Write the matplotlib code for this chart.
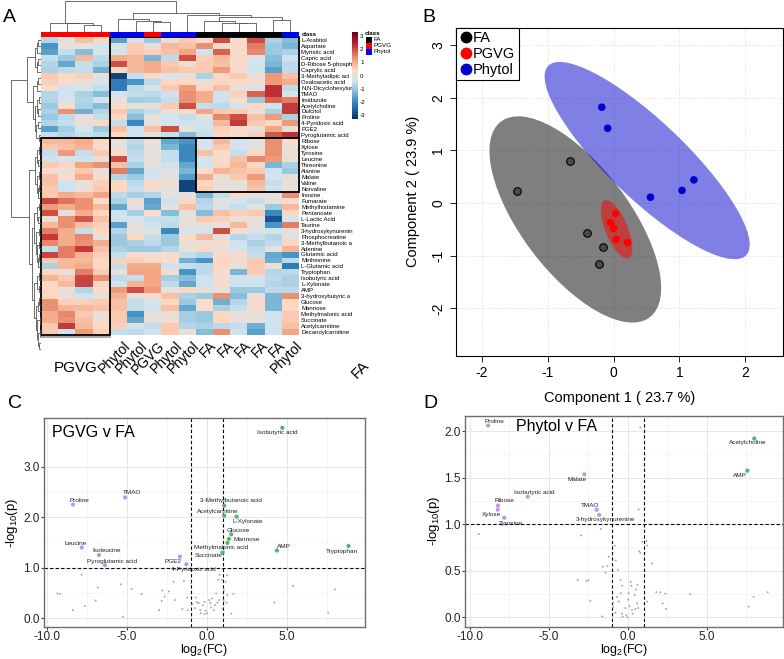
"""
Figura compuesta: (A) heatmap con dendrogramas, (B) PLS-DA con elipses 95 %,
(C, D) volcano plots. Valores leidos a ojo de la figura original.
"""
import numpy as np
import matplotlib
matplotlib.use("Agg")
import matplotlib.pyplot as plt
from matplotlib.colors import LinearSegmentedColormap, to_rgb
from matplotlib.patches import Ellipse, Rectangle
from matplotlib.lines import Line2D

plt.rcParams["font.family"] = ["Liberation Sans", "DejaVu Sans"]
plt.rcParams["axes.unicode_minus"] = False
plt.rcParams["mathtext.default"] = "regular"

W, H = 784, 659

# ---------------- datos: heatmap ----------------
ROW_LABELS = ["L-Arabitol", "Aspartate", "Myristic acid", "Capric acid", "D-Ribose 5-phospha",
              "Caprylic acid", "3-Methyladipic aci", "Oxaloacetic acid", "N,N-Dicyclohexylur",
              "TMAO", "Imidazole", "Acetylcholine", "Dulcitol", "Proline", "4-Pyridoxic acid",
              "PGE2", "Pyroglutamic acid", "Ribose", "Xylose", "Tyrosine", "Leucine", "Threonine",
              "Alanine", "Malate", "Valine", "Norvaline", "Inosine", "Fumarate", "Methylhistamine",
              "Pentanoate", "L-Lactic Acid", "Taurine", "3-hydroxykynurenin", "Phosphocreatine",
              "3-Methylbutanoic a", "Adenine", "Glutamic acid", "Methionine", "L-Glutamic acid",
              "Tryptophan", "Isobutyric acid", "L-Xylonate", "AMP", "3-hydroxybutyric a",
              "Glucose", "Mannose", "Methylmalonic acid", "Succinate", "Acetylcarnitine",
              "Decanoylcarnitine"]
HEAT = [
    [-0.7, 0.0, 0.7, 0.4, -1.6, -0.3, -1.0, 0.0, 0.6, 0.3, 2.0, 0.3, 2.0, -0.8, -1.2],
    [-1.8, 0.0, 0.0, -0.4, -0.3, 0.6, 0.1, 0.8, 0.7, 1.3, 0.3, 0.3, 1.5, -1.0, -1.3],
    [-1.6, -0.5, -1.2, -0.3, -0.3, 0.6, 0.5, 0.7, 1.1, -0.4, 1.8, 0.3, 1.4, -1.0, -0.8],
    [-0.5, -1.0, 0.8, -0.6, 1.0, 0.8, -1.3, -0.6, 2.0, 0.5, 0.8, 0.4, -0.2, -1.2, -0.4],
    [-0.7, -1.5, -0.5, -0.8, 2.0, 0.8, 1.0, 0.6, 0.1, 0.6, 0.7, 0.3, -0.3, -1.3, -0.6],
    [-0.8, -0.6, -0.5, -1.4, 0.4, 0.8, 1.0, 0.7, 0.6, 0.6, 1.2, 0.3, -0.4, -1.6, -0.6],
    [0.6, 0.4, 0.5, 0.0, -3.0, -0.5, 0.3, -0.3, 0.0, -0.8, 0.4, 0.6, 0.1, 1.2, 0.7],
    [0.5, 0.3, 0.1, -0.3, -2.2, -1.8, -0.6, 0.4, 0.4, 0.0, 0.4, 0.3, 0.2, 1.2, 1.0],
    [0.3, -0.4, -0.3, -0.5, -2.2, -0.6, -0.3, 0.6, 1.2, 0.4, 0.7, 0.0, -0.2, 2.3, -0.6],
    [-0.7, -0.4, -0.8, -1.2, -0.3, -0.5, -0.6, -0.4, 1.3, 1.0, -0.4, 0.5, 1.8, 2.3, -0.3],
    [-0.7, -0.2, -0.7, -0.3, 0.0, -0.9, -0.8, -0.5, 1.3, 1.0, -0.4, 0.3, -1.0, 1.8, 1.5],
    [-1.0, 0.2, -0.8, -1.2, 0.3, 0.0, 0.0, 0.6, 2.0, -0.5, -0.6, -0.3, 0.4, -0.4, 2.2],
    [-0.8, 1.3, -1.4, -0.7, 0.6, -0.8, -0.5, 0.0, 0.3, 1.1, 0.6, 0.6, 0.1, -0.8, 2.2],
    [-1.0, -0.6, 0.1, -0.5, 0.4, -1.2, 0.0, -0.3, -0.5, -0.1, 1.4, 2.0, 0.7, 1.2, -0.8],
    [-0.7, -0.5, 0.0, 0.4, -0.5, -2.0, 0.0, -0.3, -0.4, -0.4, 0.8, 2.2, 0.6, 0.4, 1.2],
    [-1.6, -0.9, -0.3, -1.0, 0.7, -0.4, 0.7, 2.0, 0.0, -0.4, 0.5, 0.3, 0.1, 1.1, 0.1],
    [-0.5, -0.7, -0.5, -0.6, 0.4, -0.4, 0.0, -0.5, -1.2, -0.5, 0.4, 0.3, 0.5, 1.9, 2.3],
    [0.8, 0.8, 1.0, 0.4, 0.0, -0.6, 0.0, -1.5, -1.8, -0.3, 0.8, -0.3, -0.1, 1.3, 0.3],
    [0.6, 0.7, 0.9, 0.3, 0.0, -0.7, 0.0, -1.3, -2.0, -0.3, 0.6, -0.3, -0.1, 1.3, 0.1],
    [-0.5, 1.2, -0.5, 0.6, 0.3, -0.6, 0.0, -0.5, -2.0, 0.7, 0.3, -0.5, 0.4, 1.3, 0.1],
    [-0.4, -0.3, -0.4, 0.0, 2.0, -0.5, 0.0, -0.5, -2.0, -0.3, 0.3, 0.7, 1.4, 1.2, 0.0],
    [0.6, 0.4, 1.1, 1.3, 0.7, -0.8, 0.0, -0.4, -1.5, -0.3, 0.4, 0.8, 0.4, -1.3, -0.8],
    [0.3, 0.0, 0.6, 0.0, 1.5, -1.5, -0.4, -0.1, -1.3, 0.3, 0.9, 0.7, 0.6, -0.4, -1.0],
    [0.7, 0.3, 1.0, 0.3, -0.7, -1.0, -0.3, -0.1, -1.7, 1.0, 0.0, 0.6, 1.2, -0.3, 0.0],
    [0.7, -0.4, 0.0, 0.5, 0.4, -0.6, 0.4, 0.1, -3.0, 0.4, 0.0, 0.0, 0.8, -0.5, 0.0],
    [0.6, -0.4, 0.1, 0.6, 0.4, -0.5, 0.1, 0.0, -3.0, 0.5, 0.0, 0.0, 0.7, -0.4, 0.0],
    [0.6, 1.0, 0.8, 1.1, -0.6, -0.9, -0.7, -0.1, 0.0, -1.3, -0.5, 0.3, 0.0, 0.0, 1.3],
    [2.1, 1.6, 1.3, 0.3, -0.8, 0.1, -1.6, -0.4, 0.4, -0.7, 0.0, -0.3, -0.5, 0.0, 0.3],
    [1.2, 1.0, 1.3, 0.8, -1.5, 0.0, -1.5, 0.0, 0.7, -0.6, -0.3, -0.5, -0.1, -1.0, 0.8],
    [2.0, 0.0, 1.0, 0.4, -0.4, -0.9, 0.3, -1.2, 0.0, -1.2, 0.7, 0.5, 0.6, -2.0, 0.4],
    [0.1, 1.3, 1.9, 0.7, -0.4, -0.3, -0.5, -0.5, 0.0, 0.6, 0.5, 0.0, 0.0, -2.8, -0.3],
    [0.8, 1.3, 0.7, 0.5, -1.6, 0.0, -0.4, -0.6, 0.0, 0.0, 0.0, 0.8, 0.0, -1.8, 1.5],
    [1.5, 1.0, -0.5, 0.4, -0.7, 0.0, -0.1, -2.0, -0.3, -0.3, 2.0, 0.3, -0.2, -0.3, -0.1],
    [2.2, 1.0, 1.4, 0.0, -1.0, 0.4, -0.5, -1.0, 0.3, 0.8, 0.0, -0.7, -0.5, -0.7, 0.0],
    [1.4, 1.0, 1.3, 1.0, -1.0, -0.8, -0.6, -1.0, 0.1, 0.1, 0.3, -0.4, -0.8, -0.6, 0.4],
    [-0.5, 1.5, 2.2, 0.7, -0.8, -1.0, -1.0, -0.7, 0.0, 0.4, 0.0, -0.3, -0.6, 0.0, 0.9],
    [2.1, 1.5, 0.9, 0.5, -0.5, 0.3, 0.1, 0.3, -0.5, -0.7, 0.3, 0.3, -0.5, -1.5, -1.8],
    [0.6, 0.8, 0.8, 0.4, 0.5, 0.5, 0.4, 0.3, -1.4, -1.8, 0.4, 0.1, 0.6, -1.4, -0.6],
    [-0.8, 0.8, 1.0, 0.4, -0.5, 1.0, 1.0, -0.4, -0.5, -0.6, 0.4, 0.0, 0.6, 0.0, -2.2],
    [0.4, 0.0, 1.5, 0.6, 0.0, 1.1, 1.1, 0.3, -1.8, -0.6, 0.3, -1.3, 0.6, -0.7, -0.6],
    [0.9, 0.6, 2.1, 1.3, -0.6, -0.5, 1.1, -0.9, -1.2, -0.4, 0.1, -0.4, -0.3, -0.6, -0.8],
    [0.4, 0.8, 2.1, 0.4, -0.4, 0.9, 1.1, -0.6, -1.5, -0.4, 0.3, -0.4, -0.4, -0.7, -0.8],
    [0.4, 0.0, -0.7, 0.3, 1.2, 2.0, 1.2, 0.0, 0.4, 0.0, 0.0, -1.0, -1.0, -0.6, -0.6],
    [0.4, 0.1, -0.4, 0.0, 0.9, 0.0, 0.3, 0.7, -0.8, -1.0, 1.3, -1.2, 0.1, -1.3, 1.3],
    [1.3, 0.5, 0.5, 0.6, 0.7, -0.5, -0.3, 0.4, -1.0, 0.3, -1.4, -0.7, 0.3, -1.3, 0.4],
    [1.3, 0.9, 0.8, 0.7, 0.7, -0.5, -0.4, 0.7, -1.5, 0.3, -0.8, -0.5, 0.3, -1.3, 0.4],
    [1.0, 1.4, 0.6, 0.1, 0.6, -1.8, 0.0, 0.1, -0.9, -1.0, 0.4, 0.0, 0.0, -0.4, 0.6],
    [1.0, 1.3, 0.7, 0.1, 0.6, -1.5, 0.0, 0.1, -0.9, -1.0, 0.4, 0.0, 0.0, -0.4, 0.6],
    [0.6, 2.2, 0.8, 0.4, 0.5, -0.3, -0.5, 0.6, -0.7, -0.8, -0.6, -0.5, -1.4, -0.4, 0.7],
    [0.6, -0.4, 1.2, 0.5, -0.5, -0.6, -0.4, 0.6, 0.0, -1.2, 1.3, -0.4, -1.6, -0.4, 1.1],
]
CLASS_ORDER = ["PGVG"] * 4 + ["Phytol", "Phytol", "PGVG", "Phytol", "Phytol"] + ["FA"] * 5 + ["Phytol"]
CLASS_COLORS = {"FA": "black", "PGVG": "#ff0000", "Phytol": "#0000ff"}
COL_LABELS = ["Phytol", "Phytol", "PGVG", "Phytol", "Phytol", "FA", "FA", "FA", "FA", "FA", "Phytol"]
BOXES = [(4, 14, 0, 16), (0, 3, 17, 49), (9, 14, 17, 25)]  # col0, col1, fila0, fila1

# dendrogramas: (izq, der, altura)
COL_TREE = ((0, (1, (2, 3, 7.0), 8.7), 9.3),
            ((4, (5, (6, 7, 10.3), 11.3), 12.7),
             (8, ((9, (10, (11, 12, 8.7), 9.3), 11.3), (13, 14, 12.0), 14.7), 17.0), 18.7),
            31.3)
T1 = (((0, 1, 3), 2, 4), ((3, 4, 3), 5, 4.5), 6)
T2 = ((6, 7, 3), 8, 4)
T3 = (((9, 10, 2.5), (11, 12, 3), 4.5), ((13, 14, 3), (15, 16, 2.5), 5), 6.5)
B1 = (((17, 18, 2), (19, 20, 3), 4), ((21, 22, 2.5), ((23, 24, 2), 25, 3), 4.5), 6)
B2 = (((26, 27, 2.5), (28, 29, 3), 4.5), ((30, 31, 2), ((32, 33, 2.5), ((34, 35, 2), 36, 3), 4), 5), 7)
B3 = (((37, 38, 2.5), (39, 40, 2), 4),
      (((41, 42, 2), 43, 3), ((44, 45, 1.5), ((46, 47, 1), (48, 49, 2.5), 3.5), 4.5), 5.5), 7.5)
ROW_TREE = ((T1, (T2, T3, 8), 14), (B1, (B2, B3, 9.5), 12), 30)

# ---------------- datos: PLS-DA ----------------
FA_X = [-0.66, -1.47, -0.40, -0.16, -0.22]
FA_Y = [0.79, 0.22, -0.57, -0.84, -1.16]
PGVG_X = [0.03, -0.05, 0.00, 0.04, 0.21]
PGVG_Y = [-0.20, -0.37, -0.48, -0.69, -0.75]
PHY_X = [-0.18, -0.09, 0.56, 1.04, 1.22]
PHY_Y = [1.82, 1.42, 0.11, 0.24, 0.44]

# ---------------- datos: volcano PGVG v FA ----------------
C_NAMES = ["Isobutyric acid", "TMAO", "Proline", "3-Methylbutanoic acid", "Acetylcarnitine",
           "L-Xylonate", "Glucose", "Mannose", "Methylmalonic acid", "Succinate", "AMP",
           "Tryptophan", "Leucine", "Isoleucine", "Pyroglutamic acid", "PGE2", "4-Pyridoxic acid"]
C_X = [4.73, -5.10, -8.36, 1.10, 1.10, 1.87, 1.54, 1.39, 1.30, 1.00, 4.39, 8.87, -7.81, -6.73, -6.36, -1.67, -1.27]
C_Y = [3.77, 2.39, 2.25, 2.23, 2.03, 2.01, 1.66, 1.57, 1.49, 1.30, 1.34, 1.43, 1.40, 1.25, 1.05, 1.22, 1.07]
C_NS_X = [-7.83, -9.33, -9.17, -8.36, -7.61, -6.81, -6.94, -5.36, -5.23, -4.08, -4.69, -2.77, -2.63,
          -2.81, -2.98, -2.36, -2.08, -1.98, -1.42, -1.52, -1.21, -0.98, -1.19, -0.90, -0.69, -0.61,
          -0.73, -0.50, -0.40, -0.36, -0.23, -0.13, -0.06, 0.02, -0.13, 0.15, 0.23, 0.27, 0.35, 0.46,
          0.52, 0.60, 0.67, 0.71, 0.77, 0.81, 0.94, 0.98, 1.06, 1.08, 1.19, 1.27, 1.29, 1.23, 1.67,
          1.54, 5.40, 4.23, 7.60, 8.02]
C_NS_Y = [0.86, 0.49, 0.48, 0.16, 0.24, 0.61, 0.35, 0.67, 0.03, 0.48, 0.58, 0.55, 0.43, 0.34, 0.16,
          0.53, 0.72, 0.36, 0.74, 0.18, 0.41, 0.69, 0.16, 0.28, 0.41, 0.32, 0.20, 0.30, 0.16, 0.10,
          0.26, 0.32, 0.15, 0.10, 0.08, 0.36, 0.30, 0.21, 0.39, 0.16, 0.26, 0.49, 0.31, 0.76, 0.36,
          0.86, 0.76, 0.19, 0.35, 0.55, 0.72, 0.85, 0.46, 0.31, 0.48, 0.09, 0.64, 0.31, 0.11, 0.57]

# ---------------- datos: volcano Phytol v FA ----------------
D_NAMES = ["Proline", "Acetylcholine", "AMP", "Malate", "Isobutyric acid", "Ribose", "Xylose",
           "Tyrosine", "TMAO", "3-hydroxykynurenine"]
D_X = [-8.84, 8.01, 7.57, -2.75, -6.33, -8.21, -8.23, -7.81, -1.97, -1.80]
D_Y = [2.06, 1.92, 1.575, 1.536, 1.296, 1.20, 1.156, 1.07, 1.156, 1.10]
D_NS_X = [-9.43, -2.96, -3.17, -2.49, -2.62, -2.37, -1.61, -1.71, -1.57, -1.40, -1.29, -1.21, -0.83,
          -0.76, -0.62, -0.45, -0.36, -0.43, -0.68, -0.57, -0.93, -0.93, -0.78, -0.36, -0.15, 0.02,
          0.19, 0.23, 0.06, 0.10, 0.27, -0.09, -0.32, -0.03, 0.31, 0.48, 0.65, 0.59, 0.44, 0.52,
          0.61, 0.73, 0.80, 0.92, 1.18, 1.22, 1.54, 1.22, 1.81, 2.06, 2.21, 2.42, 2.38, 3.96, 7.97,
          7.65, 8.86, 0.69, 0.80]
D_NS_Y = [0.895, 0.88, 0.40, 0.40, 0.39, 0.175, 0.01, 0.95, 0.544, 0.48, 0.55, 0.65, 0.77, 0.61,
          0.51, 0.40, 0.34, 0.26, 0.22, 0.17, 0.16, 0.11, 0.05, 0.04, 0.10, 0.19, 0.38, 0.34, 0.26,
          0.12, 0.08, 0.025, 0.007, 0.0, 0.04, 0.09, 0.10, 0.15, 0.24, 0.30, 0.35, 0.71, 0.69, 0.81,
          0.82, 0.77, 0.58, 0.17, 0.27, 0.27, 0.15, 0.09, 0.255, 0.25, 0.22, 0.115, 0.27, 1.16, 2.04]

# desplazamiento de las etiquetas (pt)
C_OFFS = {"Isobutyric acid": (-4, -3.4), "TMAO": (4.8, 3.4), "Proline": (4.3, 3.1),
          "3-Methylbutanoic acid": (5, 3.4), "Acetylcarnitine": (-5, 3.1), "L-Xylonate": (8.4, -3.6),
          "Glucose": (5, 2.6), "Mannose": (12.5, -0.5), "Methylmalonic acid": (-4.8, -3.4),
          "Succinate": (-10.3, -2.2), "AMP": (5, 3.1), "Tryptophan": (-4.6, -3.8),
          "Leucine": (-4.8, 3.1), "Isoleucine": (5.3, 3.1), "Pyroglutamic acid": (5.3, 2.9),
          "PGE2": (-5, -3.4), "4-Pyridoxic acid": (5, -3.6)}
D_OFFS = {"Proline": (4.8, 2.9), "Acetylcholine": (-5, -3.1), "AMP": (-5, -3.6), "Malate": (-5.3, -3.4),
          "Isobutyric acid": (5, 3.1), "Ribose": (4.8, 3.4), "Xylose": (-4.8, -3.4),
          "Tyrosine": (4.8, -4), "TMAO": (-5, 3.1), "3-hydroxykynurenine": (4.8, -3.6)}


def rect(x0, y0, x1, y1):
    return [x0 / W, 1 - y1 / H, (x1 - x0) / W, (y1 - y0) / H]


def draw_tree(ax, node, horizontal=False):
    """dibuja el dendrograma recursivamente, devuelve (posicion, altura)"""
    if not isinstance(node, tuple):
        return float(node), 0.0
    pl, hl = draw_tree(ax, node[0], horizontal)
    pr, hr = draw_tree(ax, node[1], horizontal)
    h = node[2]
    xs, ys = [pl, pl, pr, pr], [hl, h, h, hr]
    if horizontal:
        xs, ys = ys, xs
    ax.plot(xs, ys, color="#555555", lw=0.6, solid_capstyle="butt")
    return (pl + pr) / 2.0, h


fig = plt.figure(figsize=(W / 100, H / 100), dpi=100)

# ================= A: heatmap =================
cmap = LinearSegmentedColormap.from_list(
    "rdbu", ["#053061", "#2166AC", "#4393C3", "#92C5DE", "#D1E5F0",
             "#FDDBC7", "#F4A582", "#D6604D", "#B2182B", "#67001F"])
axh = fig.add_axes(rect(41, 37, 299, 352))
im = axh.imshow(np.array(HEAT), cmap=cmap, vmin=-3.3, vmax=3.3, aspect="auto", interpolation="nearest")
axh.set_xticks([])
axh.yaxis.tick_right()
axh.set_yticks(range(len(ROW_LABELS)), labels=ROW_LABELS)
axh.tick_params(axis="y", length=0, pad=1.5, labelsize=4.3)
for s in axh.spines.values():
    s.set_visible(False)
for c0, c1, r0, r1 in BOXES:
    axh.add_patch(Rectangle((c0 - 0.5, r0 - 0.5), c1 - c0 + 1, r1 - r0 + 1, fill=False,
                            ec="black", lw=1.3, clip_on=False))
axh.plot([-0.5, 3.5], [49.85, 49.85], color="#999999", lw=1.2, clip_on=False)
for i, lab in enumerate(COL_LABELS):
    axh.text(i + 4 + 0.3, 50.1, lab, rotation=45, ha="right", va="top", rotation_mode="anchor",
             fontsize=10, clip_on=False)
fig.text(76 / W, 1 - 368 / H, "PGVG", fontsize=11, ha="center", va="center")
fig.text(360 / W, 1 - 370 / H, "FA", fontsize=11, ha="center", va="center", rotation=45)

axc = fig.add_axes(rect(41, 32, 299, 37))
axc.imshow(np.array([[to_rgb(CLASS_COLORS[c]) for c in CLASS_ORDER]]), aspect="auto")
axc.axis("off")
fig.text(302 / W, 1 - 34.5 / H, "class", fontsize=4.3, weight="bold", va="center")

axd = fig.add_axes(rect(41, 0, 299, 32))
draw_tree(axd, COL_TREE)
axd.set_xlim(-0.5, len(CLASS_ORDER) - 0.5)
axd.set_ylim(0, 32)
axd.axis("off")

axr = fig.add_axes(rect(0, 37, 41, 352))
draw_tree(axr, ROW_TREE, horizontal=True)
axr.set_xlim(41, 0)
axr.set_ylim(len(ROW_LABELS) - 0.5, -0.5)
axr.axis("off")

cax = fig.add_axes(rect(352, 32, 358, 119))
cb = fig.colorbar(im, cax=cax)
cb.set_ticks([3, 2, 1, 0, -1, -2, -3])
cb.ax.tick_params(labelsize=4.5, length=0, pad=1.5)
cb.outline.set_visible(False)

fig.text(365 / W, 1 - 33.5 / H, "class", fontsize=4.5, weight="bold", va="center")
for k, name in enumerate(["FA", "PGVG", "Phytol"]):
    y0 = 36.7 + 6 * k
    fig.patches.append(Rectangle((365.7 / W, 1 - (y0 + 6) / H), 6.6 / W, 6 / H,
                                 transform=fig.transFigure, figure=fig, fc=CLASS_COLORS[name], ec="none"))
    fig.text(374 / W, 1 - (y0 + 3) / H, name, fontsize=4.5, va="center")

# ================= B: PLS-DA =================
axb = fig.add_axes(rect(455.7, 27.7, 782.7, 355.7))


def conf_ellipse(ax, xs, ys, color):
    xs, ys = np.asarray(xs), np.asarray(ys)
    vals, vecs = np.linalg.eigh(np.cov(xs, ys))
    order = vals.argsort()[::-1]
    vals, vecs = vals[order], vecs[:, order]
    ang = np.degrees(np.arctan2(vecs[1, 0], vecs[0, 0]))
    w, h = 2 * np.sqrt(5.991 * vals)
    ax.add_patch(Ellipse((xs.mean(), ys.mean()), w, h, angle=ang, fc=color, ec="none", alpha=0.5, zorder=2))


conf_ellipse(axb, FA_X, FA_Y, "black")
conf_ellipse(axb, PHY_X, PHY_Y, "#0000cd")
conf_ellipse(axb, PGVG_X, PGVG_Y, "#ff0000")
axb.scatter(FA_X, FA_Y, s=30, c="#4a4a4a", edgecolors="black", linewidths=0.8, zorder=3)
axb.scatter(PGVG_X, PGVG_Y, s=30, c="#ff0000", edgecolors="none", zorder=3)
axb.scatter(PHY_X, PHY_Y, s=30, c="#0000cd", edgecolors="none", zorder=3)
axb.set_xlim(-2.4, 2.57)
axb.set_ylim(-2.9, 3.33)
axb.set_xticks([-2, -1, 0, 1, 2])
axb.set_yticks([-2, -1, 0, 1, 2, 3])
axb.set_yticklabels(["-2", "-1", "0", "1", "2", "3"], rotation=90, va="center")
axb.tick_params(labelsize=10, length=4, width=0.6)
axb.grid(color="#d5d5d5", ls=":", lw=0.6)
axb.set_axisbelow(True)
for s in axb.spines.values():
    s.set_linewidth(0.8)
axb.set_xlabel("Component 1 ( 23.7 %)", fontsize=10.5, labelpad=8)
axb.set_ylabel("Component 2 ( 23.9 %)", fontsize=10.5, labelpad=8)
handles = [Line2D([], [], marker="o", ls="", color=c, markersize=7.5)
           for c in ["black", "#ff0000", "#0000cd"]]
leg = axb.legend(handles, ["FA", "PGVG", "Phytol"], loc="upper left", borderaxespad=0,
                 fancybox=False, edgecolor="black", fontsize=10.5, handletextpad=0.05,
                 handlelength=0.9, borderpad=0.25, labelspacing=0.12, framealpha=1)
leg.get_frame().set_linewidth(0.8)


# ================= C, D: volcano =================
def volcano(ax, names, xs, ys, ns_x, ns_y, offs, xlim, ylim, yticks, ylabs, title, tpos, lab_pos):
    ax.set_xlim(*xlim)
    ax.set_ylim(*ylim)
    ax.set_xticks([-10, -5, 0, 5], labels=["-10.0", "-5.0", "0.0", "5.0"])
    ax.set_xticks([-7.5, -2.5, 2.5, 7.5], minor=True)
    ax.set_yticks(yticks, labels=ylabs)
    ax.set_yticks([(a + b) / 2 for a, b in zip(yticks[:-1], yticks[1:])], minor=True)
    ax.grid(which="major", color="#e6e6e6", lw=0.7)
    ax.grid(which="minor", color="#f2f2f2", lw=0.5)
    ax.set_axisbelow(True)
    ax.tick_params(which="minor", length=0)
    ax.tick_params(which="major", length=2, pad=1, color="#444444", labelsize=8.5, labelcolor="#222222")
    for s in ax.spines.values():
        s.set_color("#6e6e6e")
        s.set_linewidth(1.0)
    ax.scatter(ns_x, ns_y, s=2, c="#a8a8a8", edgecolors="none", zorder=2)
    cols = ["#4db86a" if x > 0 else "#c494e6" for x in xs]
    ax.scatter(xs, ys, s=9, c=cols, edgecolors="none", zorder=3)
    for n, x, y in zip(names, xs, ys):
        ax.annotate(n, (x, y), xytext=offs[n], textcoords="offset points", ha="center",
                    va="center", fontsize=4.6, color="#222222", zorder=4)
    for v in (-1, 1):
        ax.axvline(v, color="black", ls=(0, (3, 2)), lw=0.8, zorder=1.5)
    ax.axhline(1, color="black", ls=(0, (3, 2)), lw=0.8, zorder=1.5)
    ax.text(tpos[0], tpos[1], title, transform=ax.transAxes, fontsize=11.5, va="center")
    ax.set_xlabel(r"log$_2$(FC)", fontsize=9, va="bottom")
    ax.set_ylabel(r"-log$_{10}$(p)", fontsize=9.5, va="center")
    ax.xaxis.set_label_coords(0.5, lab_pos[1])
    ax.yaxis.set_label_coords(lab_pos[0], 0.5)


# ubicaciones de etiquetas de eje en fraccion del eje
axC = fig.add_axes(rect(44, 417.7, 365, 627.3))
volcano(axC, C_NAMES, C_X, C_Y, C_NS_X, C_NS_Y, C_OFFS, (-10.17, 9.9), (-0.18, 3.97),
        [0.0, 1.0, 2.0, 3.0], ["0.0", "1.0", "2.0", "3.0"], "PGVG v FA", (0.025, 0.93),
        (-(44 - 12) / 321, -(658.5 - 627.3) / 209.6))
axD = fig.add_axes(rect(464.7, 416, 782.7, 626.7))
volcano(axD, D_NAMES, D_X, D_Y, D_NS_X, D_NS_Y, D_OFFS, (-10.32, 9.81), (-0.1, 2.162),
        [0.0, 0.5, 1.0, 1.5, 2.0], ["0.0", "0.5", "1.0", "1.5", "2.0"], "Phytol v FA", (0.162, 0.95),
        (-(464.7 - 434) / 318, -(658.5 - 626.7) / 210.7))

# letras de panel
for lab, x, y in [("A", 9, 17), ("B", 429, 17), ("C", 15, 404), ("D", 430, 403)]:
    fig.text(x / W, 1 - y / H, lab, fontsize=14, ha="center", va="center")

fig.savefig("out.png", dpi=100)
